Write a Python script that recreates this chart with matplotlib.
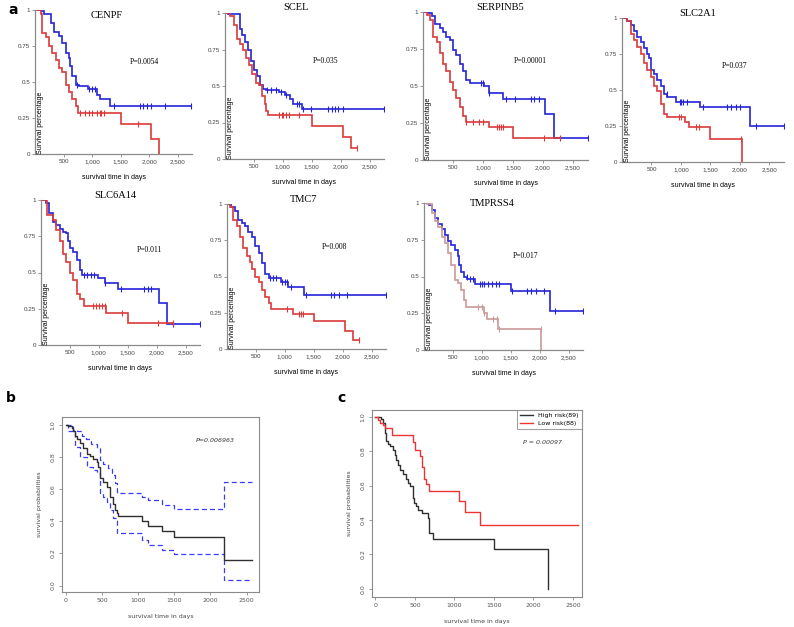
import numpy as np
import matplotlib
matplotlib.use("Agg")
import matplotlib.pyplot as plt

W, H = 794, 627

# ---------------- data: panel a (Kaplan-Meier curves per gene) ----------------
genes = ["CENPF", "SCEL", "SERPINB5", "SLC2A1", "SLC6A14", "TMC7", "TMPRSS4"]
pvals = ["P=0.0054", "P=0.035", "P=0.00001", "P=0.037", "P=0.011", "P=0.008", "P=0.017"]

cenpf_hi_t = [0, 100, 160, 275, 330, 420, 477, 535, 593, 620, 650, 710, 766, 925, 1087, 1130, 1320, 2750]
cenpf_hi_s = [1, 0.99, 0.97, 0.91, 0.85, 0.82, 0.77, 0.70, 0.665, 0.61, 0.54, 0.48, 0.47, 0.45, 0.41, 0.385, 0.33, 0.33]
cenpf_hi_c = [740, 940, 1000, 1050, 1380, 1840, 1900, 1960, 2040, 2270, 2740]
cenpf_lo_t = [0, 100, 130, 190, 245, 300, 360, 420, 477, 535, 593, 650, 710, 750, 1500, 2040, 2180]
cenpf_lo_s = [1, 0.97, 0.84, 0.81, 0.75, 0.70, 0.65, 0.60, 0.57, 0.48, 0.43, 0.38, 0.33, 0.285, 0.21, 0.105, 0]
cenpf_lo_c = [780, 880, 950, 1000, 1080, 1130, 1160, 1200, 1800]

scel_hi_t = [0, 60, 260, 290, 340, 390, 445, 500, 555, 610, 660, 715, 930, 1040, 1120, 1175, 1330, 2750]
scel_hi_s = [1, 0.99, 0.89, 0.85, 0.80, 0.75, 0.67, 0.61, 0.57, 0.51, 0.48, 0.47, 0.46, 0.44, 0.41, 0.38, 0.34, 0.34]
scel_hi_c = [720, 800, 880, 960, 1050, 1240, 1280, 1350, 1480, 1780, 1850, 1900, 1960, 2040, 2750]
scel_lo_t = [0, 95, 150, 200, 255, 310, 365, 420, 475, 530, 580, 635, 690, 715, 745, 1500, 2040, 2180, 2280]
scel_lo_s = [1, 0.98, 0.92, 0.82, 0.79, 0.75, 0.69, 0.645, 0.58, 0.52, 0.51, 0.43, 0.38, 0.33, 0.30, 0.225, 0.15, 0.075, 0.075]
scel_lo_c = [930, 980, 1000, 1050, 1100, 1280, 2280]

serp_hi_t = [0, 100, 145, 200, 280, 335, 390, 445, 500, 555, 610, 665, 720, 775, 1020, 1100, 1330, 2040, 2180, 2750]
serp_hi_s = [1, 0.99, 0.97, 0.92, 0.89, 0.865, 0.83, 0.81, 0.74, 0.71, 0.65, 0.60, 0.54, 0.52, 0.50, 0.455, 0.41, 0.31, 0.15, 0.15]
serp_hi_c = [960, 1000, 1100, 1380, 1530, 1800, 1850, 1930, 2750]
serp_lo_t = [0, 60, 115, 170, 225, 280, 335, 390, 445, 500, 555, 610, 665, 720, 1100, 1500, 2280]
serp_lo_s = [1, 0.98, 0.946, 0.83, 0.80, 0.72, 0.65, 0.60, 0.53, 0.47, 0.42, 0.36, 0.30, 0.26, 0.225, 0.15, 0.15]
serp_lo_c = [720, 830, 930, 1000, 1240, 1270, 1300, 1330, 2020, 2280]

slc2_hi_t = [0, 90, 145, 200, 255, 315, 370, 425, 465, 485, 540, 595, 655, 710, 765, 910, 1330, 2180, 2750]
slc2_hi_s = [1, 0.98, 0.95, 0.91, 0.87, 0.83, 0.79, 0.75, 0.72, 0.64, 0.61, 0.57, 0.53, 0.475, 0.45, 0.42, 0.38, 0.25, 0.25]
slc2_hi_c = [760, 980, 1000, 1040, 1100, 1380, 1780, 1850, 1930, 2000, 2280, 2750]
slc2_lo_t = [0, 90, 145, 200, 255, 315, 370, 425, 485, 540, 595, 655, 710, 765, 1075, 1135, 1500, 2040]
slc2_lo_s = [1, 0.98, 0.89, 0.845, 0.80, 0.75, 0.69, 0.64, 0.59, 0.53, 0.49, 0.405, 0.335, 0.31, 0.28, 0.24, 0.16, 0]
slc2_lo_c = [960, 1000, 1250, 1300, 2020]

slc6_hi_t = [0, 80, 140, 200, 260, 320, 380, 440, 470, 500, 560, 620, 680, 710, 980, 1100, 1330, 2040, 2180, 2750]
slc6_hi_s = [1, 0.977, 0.91, 0.85, 0.83, 0.80, 0.78, 0.77, 0.72, 0.67, 0.64, 0.585, 0.516, 0.48, 0.46, 0.43, 0.385, 0.29, 0.145, 0.145]
slc6_hi_c = [740, 800, 860, 920, 1100, 1380, 1790, 1850, 1900, 2280, 2750]
slc6_lo_t = [0, 110, 200, 260, 320, 380, 440, 500, 560, 620, 680, 740, 1130, 1500, 2280]
slc6_lo_s = [1, 0.90, 0.86, 0.79, 0.72, 0.63, 0.57, 0.50, 0.45, 0.355, 0.32, 0.27, 0.22, 0.15, 0.15]
slc6_lo_c = [900, 950, 1000, 1050, 1110, 1400, 2020, 2280]

tmc7_hi_t = [0, 75, 135, 195, 255, 310, 370, 430, 490, 545, 605, 665, 725, 930, 1050, 1330, 2750]
tmc7_hi_s = [1, 0.98, 0.95, 0.89, 0.87, 0.845, 0.81, 0.775, 0.71, 0.66, 0.59, 0.52, 0.49, 0.46, 0.43, 0.37, 0.37]
tmc7_hi_c = [740, 800, 850, 950, 1000, 1030, 1100, 1370, 1800, 1850, 1930, 2080, 2750]
tmc7_lo_t = [0, 45, 105, 165, 225, 280, 340, 400, 430, 490, 545, 605, 665, 725, 755, 1135, 1500, 2040, 2180, 2280]
tmc7_lo_s = [1, 0.98, 0.89, 0.845, 0.775, 0.695, 0.64, 0.60, 0.55, 0.50, 0.465, 0.41, 0.36, 0.32, 0.275, 0.24, 0.19, 0.125, 0.065, 0.065]
tmc7_lo_c = [1030, 1250, 1280, 1310, 2280]

tmpr_hi_t = [0, 85, 140, 195, 250, 305, 360, 415, 470, 530, 585, 610, 640, 695, 750, 890, 1500, 2180, 2750]
tmpr_hi_s = [1, 0.985, 0.955, 0.90, 0.86, 0.82, 0.78, 0.74, 0.715, 0.68, 0.64, 0.58, 0.53, 0.50, 0.48, 0.45, 0.40, 0.265, 0.265]
tmpr_hi_c = [740, 790, 840, 960, 1000, 1040, 1100, 1180, 1250, 1300, 1530, 1780, 1850, 1930, 2080, 2270, 2750]
tmpr_lo_t = [0, 55, 140, 195, 250, 305, 360, 415, 470, 530, 585, 640, 695, 720, 1030, 1085, 1280, 2030]
tmpr_lo_s = [1, 0.99, 0.93, 0.875, 0.84, 0.77, 0.73, 0.66, 0.58, 0.477, 0.455, 0.41, 0.34, 0.295, 0.25, 0.21, 0.14, 0]
tmpr_lo_c = [940, 1000, 1030, 1200, 1260, 1300, 2020]

curves_hi = [(cenpf_hi_t, cenpf_hi_s, cenpf_hi_c), (scel_hi_t, scel_hi_s, scel_hi_c),
             (serp_hi_t, serp_hi_s, serp_hi_c), (slc2_hi_t, slc2_hi_s, slc2_hi_c),
             (slc6_hi_t, slc6_hi_s, slc6_hi_c), (tmc7_hi_t, tmc7_hi_s, tmc7_hi_c),
             (tmpr_hi_t, tmpr_hi_s, tmpr_hi_c)]
curves_lo = [(cenpf_lo_t, cenpf_lo_s, cenpf_lo_c), (scel_lo_t, scel_lo_s, scel_lo_c),
             (serp_lo_t, serp_lo_s, serp_lo_c), (slc2_lo_t, slc2_lo_s, slc2_lo_c),
             (slc6_lo_t, slc6_lo_s, slc6_lo_c), (tmc7_lo_t, tmc7_lo_s, tmc7_lo_c),
             (tmpr_lo_t, tmpr_lo_s, tmpr_lo_c)]

# ---------------- data: panel b (risk score KM with 95% CI) ----------------
b_time = [0, 37, 83, 106, 129, 152, 198, 244, 290, 336, 382, 428, 451, 474, 520, 566, 612, 658, 681, 704, 727,
          1060, 1130, 1330, 1500, 2180, 2570]
b_surv = [1, 0.994, 0.98, 0.96, 0.93, 0.91, 0.886, 0.855, 0.82, 0.81, 0.79, 0.77, 0.74, 0.67, 0.647, 0.616, 0.554,
          0.51, 0.47, 0.45, 0.434, 0.40, 0.37, 0.337, 0.305, 0.16, 0.16]
b_up_time = [0, 100, 160, 230, 280, 350, 428, 474, 520, 589, 635, 681, 704, 1060, 1130, 1330, 1500, 2180, 2570]
b_up_surv = [1, 0.97, 0.96, 0.93, 0.91, 0.88, 0.86, 0.78, 0.76, 0.73, 0.69, 0.64, 0.575, 0.55, 0.53, 0.505, 0.48,
             0.645, 0.645]
b_lo_time = [0, 37, 129, 198, 290, 382, 428, 474, 520, 566, 612, 658, 704, 1060, 1130, 1330, 1500, 2180, 2570]
b_lo_surv = [1, 0.96, 0.865, 0.80, 0.74, 0.72, 0.70, 0.575, 0.55, 0.52, 0.47, 0.42, 0.325, 0.285, 0.255, 0.22,
             0.195, 0.037, 0.037]

# ---------------- data: panel c (high vs low risk) ----------------
c_high_time = [0, 76, 97, 118, 140, 161, 182, 224, 245, 266, 288, 309, 351, 393, 415, 444, 470, 486, 512, 541,
               584, 668, 681, 723, 1500, 2180]
c_high_surv = [1, 0.99, 0.965, 0.905, 0.86, 0.845, 0.83, 0.81, 0.78, 0.75, 0.72, 0.69, 0.667, 0.64, 0.615, 0.595,
               0.527, 0.50, 0.48, 0.46, 0.44, 0.41, 0.323, 0.288, 0.23, 0]
c_low_time = [0, 34, 55, 97, 118, 216, 478, 499, 563, 596, 617, 639, 681, 1060, 1130, 1330, 2570]
c_low_surv = [1, 0.98, 0.965, 0.955, 0.935, 0.895, 0.855, 0.81, 0.77, 0.71, 0.64, 0.61, 0.57, 0.51, 0.445, 0.37,
              0.37]

a_xticks = [500, 1000, 1500, 2000, 2500]
a_xticklabels = ["500", "1,000", "1,500", "2,000", "2,500"]
a_yticks = [0, 0.25, 0.5, 0.75, 1]
a_yticklabels = ["0", "0.25", "0.5", "0.75", "1"]

# layout (pixel boxes: left, top, right, bottom), title xy, p-value xy
a_boxes = [(35, 10, 192, 154), (225, 13, 384, 159), (423, 12, 588, 160), (622, 18, 784, 162),
           (41, 200, 200, 345), (227, 204, 386, 349), (424, 203, 583, 350)]
a_title_xy = [(107, 16), (296, 8), (500, 7), (698, 13), (115, 196), (304, 200), (492, 203)]
a_p_xy = [(144, 62), (326, 61), (530, 61), (735, 66), (149, 250), (334, 247), (526, 256)]

BLUE = "#2424d8"
RED = "#dc3a3a"
PINK = "#c99a9a"
GREY = "#8a8a8a"


def add_ax(box):
    l, t, r, b = box
    return fig.add_axes([l / W, 1 - b / H, (r - l) / W, (b - t) / H])


def fxy(x, y):
    return x / W, 1 - y / H


def km(ax, t, s, cens, color, lw=1.2):
    t = np.asarray(t, float)
    s = np.asarray(s, float)
    ax.step(t, s, where="post", color=color, lw=lw, solid_joinstyle="miter")
    if cens:
        c = np.asarray(cens, float)
        idx = np.searchsorted(t, c, side="right") - 1
        ax.plot(c, s[idx], ls="none", marker="|", ms=4, mew=0.8, color=color)


fig = plt.figure(figsize=(W / 100, H / 100), dpi=100)

serif = ["Liberation Serif", "DejaVu Serif"]
narrow = ["Liberation Sans Narrow", "Liberation Sans", "DejaVu Sans"]

for i, gene in enumerate(genes):
    ax = add_ax(a_boxes[i])
    ht, hs, hc = curves_hi[i]
    lt, ls_, lc = curves_lo[i]
    km(ax, ht, hs, hc, BLUE)
    km(ax, lt, ls_, lc, PINK if gene == "TMPRSS4" else RED)
    ax.set_xlim(0, 2750)
    ax.set_ylim(0, 1.0)
    ax.set_xticks(a_xticks)
    ax.set_xticklabels(a_xticklabels, family=narrow, fontsize=4.5, color="#444444")
    ax.set_yticks(a_yticks)
    ax.set_yticklabels(a_yticklabels, family=narrow, fontsize=4.5, color="#444444")
    ax.tick_params(length=2, width=0.6, color=GREY, pad=1.5)
    for side in ["top", "right"]:
        ax.spines[side].set_visible(False)
    for side in ["left", "bottom"]:
        ax.spines[side].set_color(GREY)
        ax.spines[side].set_linewidth(0.9)
    ax.set_xlabel("survival time in days", family=narrow, fontsize=5, labelpad=7)
    ax.text(0.012, 0.0, "Survival percentage", rotation=90, transform=ax.transAxes,
            ha="left", va="bottom", family=narrow, fontsize=5)
    tx, ty = fxy(*a_title_xy[i])
    fig.text(tx, ty, gene, ha="center", va="center", family=serif, fontsize=7.5)
    px, py = fxy(*a_p_xy[i])
    fig.text(px, py, pvals[i], ha="center", va="center", family=serif, fontsize=5.5)


def r_style(ax):
    for sp in ax.spines.values():
        sp.set_color(GREY)
        sp.set_linewidth(0.8)
    ax.set_xticks([0, 500, 1000, 1500, 2000, 2500])
    ax.set_yticks([0.0, 0.2, 0.4, 0.6, 0.8, 1.0])
    ax.set_yticklabels(["0.0", "0.2", "0.4", "0.6", "0.8", "1.0"], rotation=90, va="center")
    ax.tick_params(length=2.5, width=0.6, color=GREY, labelsize=4.5, labelcolor="#555555", pad=2)
    ax.set_xlabel("survival time in days", fontsize=4.5, color="#444444", labelpad=8)
    ax.set_ylabel("survival probabilities", fontsize=4.5, color="#444444", labelpad=6)


# panel b
axb = add_ax((62, 417, 259, 592))
axb.step(b_up_time, b_up_surv, where="post", color="#3a3aff", lw=0.9, ls=(0, (4, 2.5)))
axb.step(b_lo_time, b_lo_surv, where="post", color="#3a3aff", lw=0.9, ls=(0, (4, 2.5)))
axb.step(b_time, b_surv, where="post", color="#303030", lw=1.0)
axb.set_xlim(-51, 2670)
axb.set_ylim(-0.04, 1.05)
r_style(axb)
axb.text(0.68, 0.855, "P=0.006963", transform=axb.transAxes, fontsize=4.5, style="italic", color="#333333")

# panel c
axc = add_ax((372, 410, 582, 597))
axc.step(c_high_time, c_high_surv, where="post", color="#303030", lw=1.0, label="High risk(89)")
axc.step(c_low_time, c_low_surv, where="post", color="#ee3333", lw=1.0, label="Low risk(88)")
axc.set_xlim(-43, 2615)
axc.set_ylim(-0.048, 1.04)
r_style(axc)
axc.text(0.72, 0.82, "P = 0.00097", transform=axc.transAxes, fontsize=4.5, style="italic", color="#333333")
leg = axc.legend(loc="upper right", fontsize=4.5, frameon=True, fancybox=False, borderaxespad=0,
                 handlelength=2.2, borderpad=0.5, labelspacing=0.3, handletextpad=0.8)
leg.get_frame().set_edgecolor(GREY)
leg.get_frame().set_linewidth(0.8)

# panel letters
for lab, (x, y) in zip(["a", "b", "c"], [(8, 10), (6, 398), (337, 398)]):
    fx, fy = fxy(x, y)
    fig.text(fx, fy, lab, fontsize=10, fontweight="bold", ha="left", va="center")

fig.savefig("out.png", dpi=100)
